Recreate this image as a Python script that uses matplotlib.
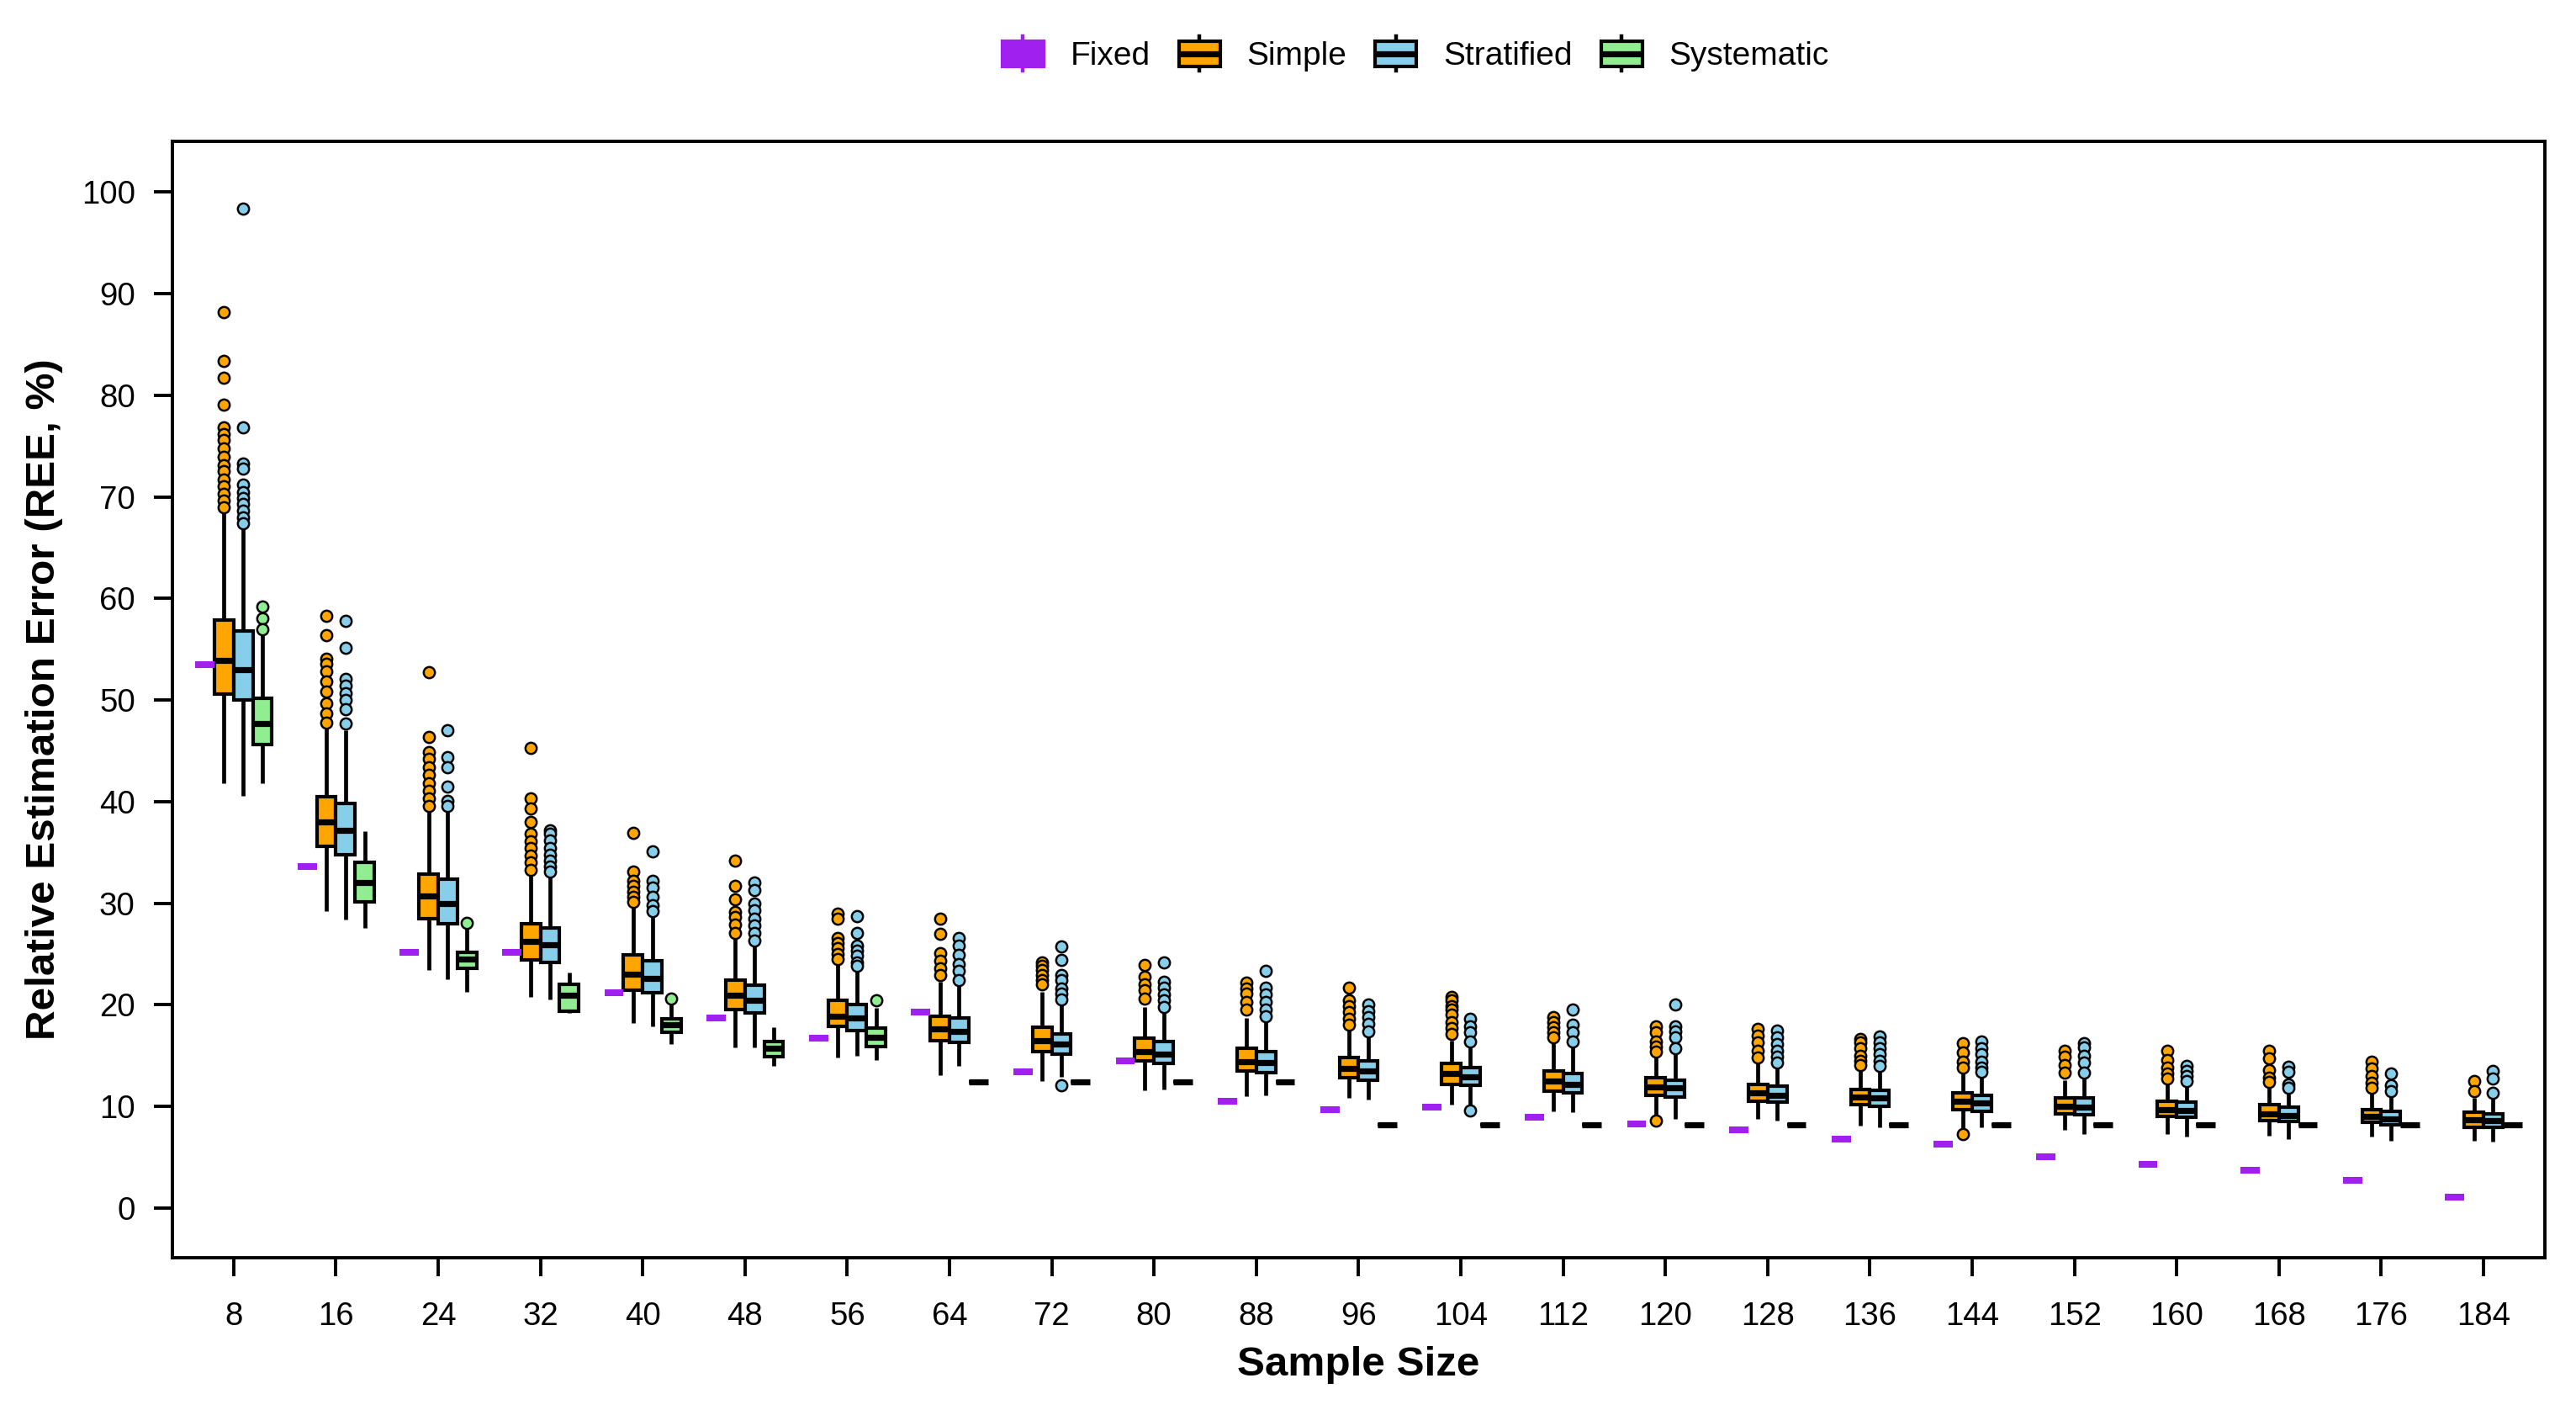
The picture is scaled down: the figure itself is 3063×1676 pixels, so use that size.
import matplotlib
matplotlib.use("Agg")
import matplotlib.pyplot as plt
from matplotlib.patches import Patch, Rectangle
from matplotlib.lines import Line2D
from matplotlib.legend_handler import HandlerBase

plt.rcParams['font.family'] = ['Liberation Sans', 'DejaVu Sans']

sizes = [8, 16, 24, 32, 40, 48, 56, 64, 72, 80, 88, 96, 104, 112, 120, 128, 136, 144, 152, 160, 168, 176, 184]

fixed = [53.5, 33.6, 25.2, 25.2, 21.2, 18.7, 16.7, 19.3, 13.4, 14.5, 10.5, 9.7,
         9.9, 8.9, 8.3, 7.7, 6.8, 6.3, 5.0, 4.3, 3.7, 2.7, 1.1]

simple_q1 = [50.6, 35.6, 28.5, 24.4, 21.4, 19.5, 17.9, 16.5, 15.4, 14.5, 13.5, 12.8,
             12.2, 11.5, 11.1, 10.5, 10.2, 9.7, 9.3, 9.0, 8.6, 8.4, 7.9]
simple_med = [53.9, 38.0, 30.7, 26.2, 23.0, 20.9, 18.9, 17.6, 16.5, 15.4, 14.4, 13.7,
              13.2, 12.5, 11.9, 11.3, 10.9, 10.5, 10.0, 9.7, 9.3, 9.0, 8.7]
simple_q3 = [57.9, 40.5, 32.9, 28.0, 24.9, 22.4, 20.4, 18.9, 17.8, 16.7, 15.7, 14.8,
             14.2, 13.5, 12.8, 12.2, 11.7, 11.3, 10.8, 10.5, 10.2, 9.7, 9.4]
simple_lo = [41.8, 29.2, 23.4, 20.8, 18.2, 15.8, 14.8, 13.1, 12.5, 11.6, 11.0, 10.8,
             10.2, 9.5, 9.1, 8.8, 8.1, 7.8, 7.7, 7.3, 7.1, 7.0, 6.6]
simple_hi = [68.4, 47.4, 39.1, 33.0, 29.7, 26.6, 24.0, 22.3, 21.3, 19.8, 18.7, 17.6,
             16.5, 16.4, 15.0, 14.3, 13.6, 13.3, 12.6, 12.5, 11.9, 11.4, 10.8]
simple_out = [
    [88.2, 83.4, 81.7, 79.1, 76.8, 76.2, 75.6, 74.8, 73.9, 73.1, 72.5, 71.7, 71.0, 70.3, 69.6, 69.0],
    [58.3, 56.4, 54.1, 53.6, 52.8, 51.8, 50.8, 49.7, 48.7, 47.8],
    [52.7, 46.4, 44.9, 44.2, 43.4, 42.6, 41.8, 41.1, 40.3, 39.6],
    [45.3, 40.3, 39.3, 38.0, 36.8, 36.1, 35.4, 34.7, 34.0, 33.3],
    [36.9, 33.1, 32.2, 31.7, 31.1, 30.6, 30.1],
    [34.2, 31.7, 30.4, 29.1, 28.6, 27.9, 27.1],
    [29.0, 28.5, 26.6, 26.1, 25.6, 25.0, 24.5],
    [28.5, 27.0, 25.1, 24.3, 23.6, 22.9],
    [24.2, 23.8, 23.4, 22.9, 22.4, 22.0],
    [23.9, 22.8, 22.0, 21.4, 20.6],
    [22.2, 21.6, 21.1, 20.3, 19.5],
    [21.7, 20.4, 19.9, 19.3, 18.6, 18.0],
    [20.8, 20.4, 19.9, 19.5, 19.0, 18.3, 17.7, 17.1],
    [18.8, 18.3, 17.8, 17.3, 16.8],
    [17.9, 17.3, 16.4, 15.9, 15.4, 8.6],
    [17.6, 17.0, 16.3, 15.5, 14.8],
    [16.6, 16.3, 15.7, 15.0, 14.5, 14.1],
    [16.2, 15.3, 14.4, 13.8, 7.3],
    [15.5, 14.9, 14.1, 13.3],
    [15.5, 14.6, 13.8, 13.2, 12.7],
    [15.5, 14.7, 13.6, 12.8, 12.4],
    [14.4, 13.7, 13.0, 12.3, 11.8],
    [12.5, 11.5],
]

strat_q1 = [50.0, 34.8, 28.0, 24.2, 21.2, 19.2, 17.5, 16.3, 15.1, 14.2, 13.3, 12.6,
            12.1, 11.3, 10.9, 10.4, 10.0, 9.5, 9.2, 8.9, 8.5, 8.2, 7.9]
strat_med = [53.0, 37.2, 30.0, 25.9, 22.6, 20.4, 18.7, 17.4, 16.1, 15.1, 14.3, 13.5,
             12.9, 12.2, 11.8, 11.1, 10.8, 10.3, 9.9, 9.6, 9.1, 8.8, 8.6]
strat_q3 = [56.8, 39.8, 32.4, 27.6, 24.3, 21.9, 20.0, 18.7, 17.1, 16.4, 15.4, 14.5,
            13.8, 13.2, 12.6, 12.0, 11.6, 11.1, 10.8, 10.4, 9.9, 9.5, 9.3]
strat_lo = [40.6, 28.4, 22.5, 20.5, 17.9, 15.8, 15.0, 14.0, 12.9, 11.7, 11.1, 10.7,
            10.1, 9.4, 8.8, 8.6, 7.9, 7.9, 7.3, 7.0, 6.8, 6.6, 6.5]
strat_hi = [66.8, 47.0, 39.1, 32.5, 28.7, 25.9, 23.5, 22.0, 20.4, 19.4, 18.3, 17.1,
            15.9, 15.8, 15.1, 14.0, 13.6, 13.1, 12.9, 12.1, 11.5, 11.1, 10.8]
strat_out = [
    [98.4, 76.8, 73.3, 72.8, 71.2, 70.5, 69.9, 69.3, 68.6, 68.0, 67.4],
    [57.8, 55.1, 52.1, 51.4, 50.7, 50.0, 49.1, 47.7],
    [47.0, 44.4, 43.4, 41.5, 40.1, 39.6],
    [37.2, 36.8, 36.2, 35.4, 34.8, 34.2, 33.6, 33.1],
    [35.1, 32.2, 31.5, 30.6, 29.8, 29.2],
    [32.0, 31.3, 30.0, 29.3, 28.5, 27.8, 27.1, 26.3],
    [28.7, 27.1, 25.8, 25.3, 24.8, 24.2, 23.8],
    [26.6, 25.8, 24.9, 24.0, 23.3, 22.4],
    [25.7, 24.4, 22.9, 22.4, 21.6, 21.1, 20.5, 12.1],
    [24.2, 22.3, 21.7, 21.0, 20.4, 19.8],
    [23.3, 21.7, 21.0, 20.3, 19.5, 18.9],
    [20.0, 19.4, 18.8, 18.1, 17.4],
    [18.6, 17.9, 17.3, 16.4, 9.6],
    [19.5, 18.0, 17.3, 16.4],
    [20.0, 17.9, 17.4, 16.8, 15.7],
    [17.5, 16.8, 16.1, 15.5, 14.9, 14.3],
    [16.9, 16.3, 15.7, 15.1, 14.5, 14.0],
    [16.4, 15.7, 15.1, 14.4, 13.8, 13.4],
    [16.2, 15.8, 15.0, 14.3, 13.3],
    [14.0, 13.5, 13.0, 12.5],
    [13.9, 13.4, 12.2, 11.8],
    [13.2, 12.1, 11.5],
    [13.5, 12.7, 11.3],
]

syst_q1 = [45.6, 30.1, 23.6, 19.4, 17.3, 14.9, 15.9] + [12.4] * 4 + [8.2] * 12
syst_med = [47.7, 32.0, 24.5, 20.9, 18.0, 15.7, 16.8] + [12.4] * 4 + [8.2] * 12
syst_q3 = [50.2, 34.0, 25.2, 22.0, 18.6, 16.4, 17.7] + [12.4] * 4 + [8.2] * 12
syst_lo = [41.8, 27.6, 21.3, 19.2, 16.1, 14.0, 14.6] + [12.4] * 4 + [8.2] * 12
syst_hi = [56.6, 37.1, 27.5, 23.2, 20.1, 17.8, 19.7] + [12.4] * 4 + [8.2] * 12
syst_out = [[59.2, 58.0, 57.0], [], [28.1], [], [20.6], [], [20.4]] + [[]] * 16

groups = ['Fixed', 'Simple', 'Stratified', 'Systematic']
colors = {'Fixed': '#A020F0', 'Simple': '#FFA500', 'Stratified': '#87CEEB', 'Systematic': '#90EE90'}
offsets = [-0.28125, -0.09375, 0.09375, 0.28125]
box_w = 0.1875


def make_stats(q1, med, q3, lo, hi, out):
    return [dict(q1=a, med=b, q3=c, whislo=d, whishi=e, fliers=f)
            for a, b, c, d, e, f in zip(q1, med, q3, lo, hi, out)]


class BoxKey(HandlerBase):
    # legend key drawn like a small vertical boxplot
    def create_artists(self, legend, orig_handle, xdescent, ydescent, width, height, fontsize, trans):
        fc = orig_handle.get_facecolor()
        ec = orig_handle.get_edgecolor()
        x0, y0 = -xdescent, -ydescent
        cx = x0 + width / 2
        bw = width * 0.9
        top = y0 + height * 0.86
        bot = y0 + height * 0.14
        wl = [Line2D([cx, cx], [top, y0 + height], color=ec, lw=1.6, transform=trans),
              Line2D([cx, cx], [y0, bot], color=ec, lw=1.6, transform=trans)]
        rect = Rectangle((cx - bw / 2, bot), bw, top - bot, facecolor=fc, edgecolor=ec,
                         lw=1.5, transform=trans)
        med = Line2D([cx - bw / 2, cx + bw / 2], [(top + bot) / 2] * 2, color=ec, lw=2.6,
                     solid_capstyle='butt', transform=trans)
        return wl + [rect, med]


fig = plt.figure(figsize=(15.315, 8.38), dpi=200)
ax = fig.add_axes([0.0669, 0.108, 0.9210, 0.7918])

idx = list(range(len(sizes)))

# Fixed: one value per sample size, drawn as a flat purple bar
fixed_stats = make_stats(fixed, fixed, fixed, fixed, fixed, [[]] * len(fixed))
ax.bxp(fixed_stats, positions=[i + offsets[0] for i in idx], widths=box_w,
       showbox=False, showcaps=False, showfliers=False,
       medianprops=dict(color=colors['Fixed'], linewidth=2.9, solid_capstyle='butt'),
       whiskerprops=dict(linewidth=0))

series = [
    ('Simple', make_stats(simple_q1, simple_med, simple_q3, simple_lo, simple_hi, simple_out)),
    ('Stratified', make_stats(strat_q1, strat_med, strat_q3, strat_lo, strat_hi, strat_out)),
    ('Systematic', make_stats(syst_q1, syst_med, syst_q3, syst_lo, syst_hi, syst_out)),
]
for k, (name, stats) in enumerate(series, start=1):
    ax.bxp(stats, positions=[i + offsets[k] for i in idx], widths=box_w,
           patch_artist=True, showcaps=False,
           boxprops=dict(facecolor=colors[name], edgecolor='black', linewidth=1.5),
           whiskerprops=dict(color='black', linewidth=1.7, solid_capstyle='butt'),
           medianprops=dict(color='black', linewidth=2.6, solid_capstyle='butt'),
           flierprops=dict(marker='o', markerfacecolor=colors[name], markeredgecolor='black',
                           markersize=4.8, markeredgewidth=0.9, linestyle='none'))

ax.set_xlim(-0.6, len(sizes) - 0.4)
ax.set_ylim(-4.9, 105)
ax.set_xticks(idx)
ax.set_xticklabels([str(s) for s in sizes])
ax.set_yticks(range(0, 101, 10))
for sp in ax.spines.values():
    sp.set_linewidth(1.4)
ax.tick_params(axis='both', length=7.9, width=1.4, labelsize=13.8, colors='black')
ax.tick_params(axis='y', pad=8)
ax.tick_params(axis='x', pad=11)
ax.set_xlabel('Sample Size', fontsize=17.8, fontweight='bold', labelpad=6)
ax.set_ylabel('Relative Estimation Error (REE, %)', fontsize=17.8, fontweight='bold', labelpad=8)

handles = [Patch(facecolor=colors['Fixed'], edgecolor=colors['Fixed'])] + \
          [Patch(facecolor=colors[g], edgecolor='black') for g in groups[1:]]
fig.legend(handles, groups, loc='center', bbox_to_anchor=(1682 / 3063, 1 - 64 / 1676),
           ncol=4, frameon=False, fontsize=14, handlelength=1.4, handleheight=1.25,
           handletextpad=0.75, columnspacing=0.8, handler_map={Patch: BoxKey()})

fig.savefig('out.png', dpi=200)
